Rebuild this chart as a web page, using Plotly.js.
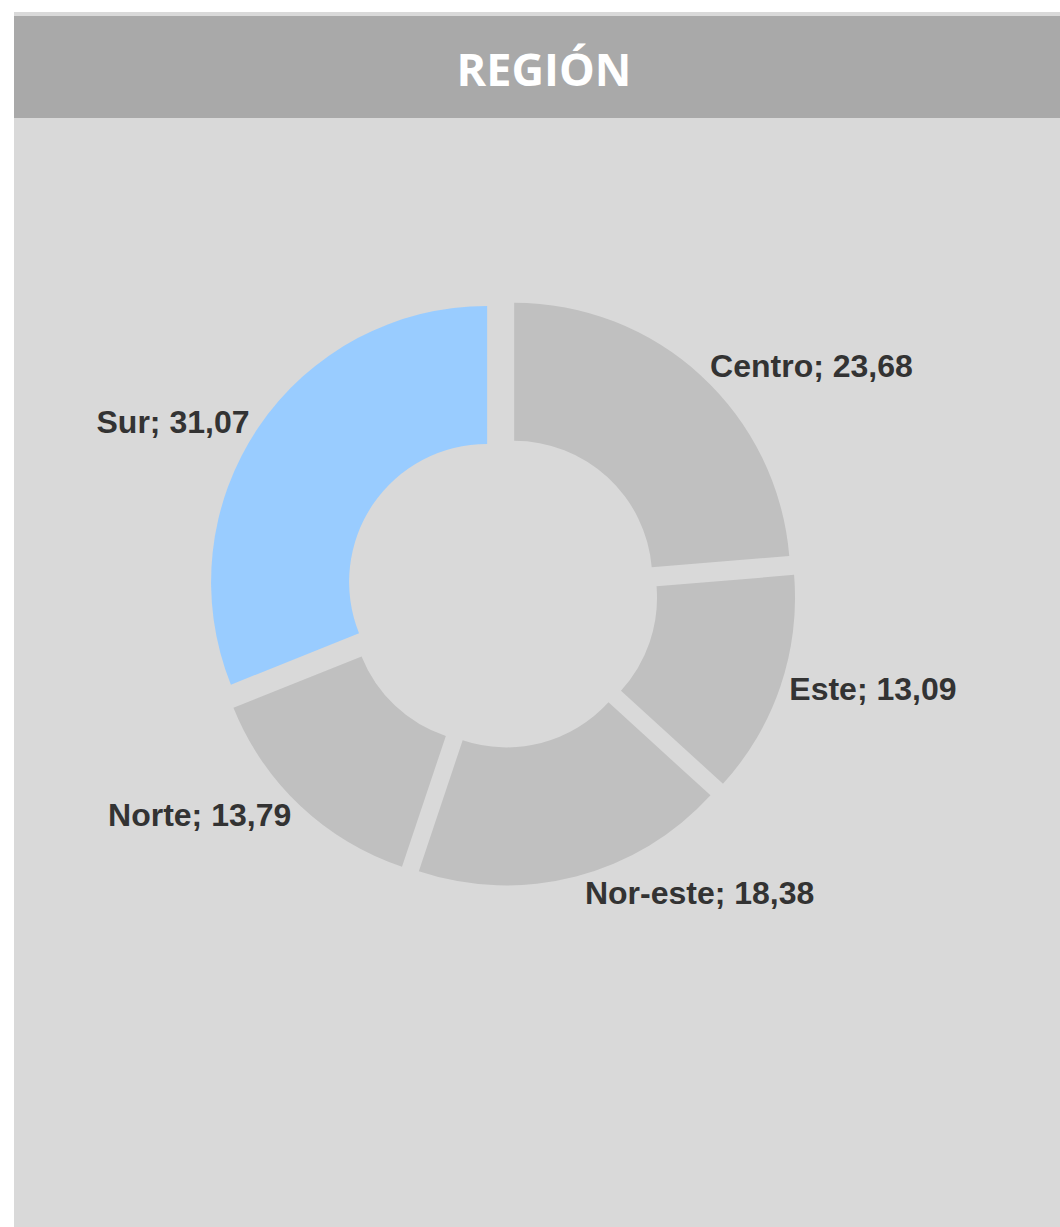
<!DOCTYPE html>
<html>
<head>
<meta charset="utf-8">
<script src="https://cdn.plot.ly/plotly-3.0.1.min.js"></script>
<style>html,body{margin:0;padding:0;background:#fff;}#chart{width:1060px;height:1227px;}</style>
</head>
<body>
<div id="chart"></div>
<script>
const regions = ["Centro", "Este", "Nor-este", "Norte", "Sur"];
const shares = [23.68, 13.09, 18.38, 13.79, 31.07];
const sliceColors = ["#C0C0C0", "#C0C0C0", "#C0C0C0", "#C0C0C0", "#99CCFF"];
const chartTitle = "REGIÓN";

const W = 1060, H = 1227;
const labelFont = {family: "Liberation Sans, Arial, sans-serif", size: 32, color: "#333333", weight: "bold"};
const trace = {
  type: "pie",
  labels: regions,
  values: shares,
  sort: false,
  direction: "clockwise",
  rotation: 0,
  hole: 0.5,
  pull: 0.065,
  marker: {colors: sliceColors, line: {width: 0}},
  texttemplate: "%{label}; %{value:.2f}",
  textposition: "outside",
  textfont: labelFont,
  outsidetextfont: labelFont,
  automargin: false,
  showlegend: false,
  hoverinfo: "label+value",
  domain: {x: [208 / W, 796 / W], y: [(H - 592 - 294) / H, (H - 592 + 294) / H]}
};

const layout = {
  width: W,
  height: H,
  margin: {l: 0, r: 0, t: 0, b: 0},
  paper_bgcolor: "#FFFFFF",
  separators: ",.",
  showlegend: false,
  title: {
    text: "<b>" + chartTitle + "</b>",
    font: {family: "Open Sans, sans-serif", size: 45, color: "#FFFFFF"},
    x: 544 / W, xanchor: "center",
    y: 1 - 70 / H, yanchor: "middle",
    xref: "paper", yref: "container"
  },
  shapes: [
    {type: "rect", xref: "paper", yref: "paper", x0: 14 / W, x1: 1, y0: 0, y1: 1 - 12 / H,
     fillcolor: "#D9D9D9", line: {width: 0}, layer: "below"},
    {type: "rect", xref: "paper", yref: "paper", x0: 14 / W, x1: 1, y0: 1 - 118 / H, y1: 1 - 16 / H,
     fillcolor: "#A9A9A9", line: {width: 0}, layer: "below"}
  ]
};

Plotly.newPlot("chart", [trace], layout, {displayModeBar: false, staticPlot: true});
</script>
</body>
</html>
